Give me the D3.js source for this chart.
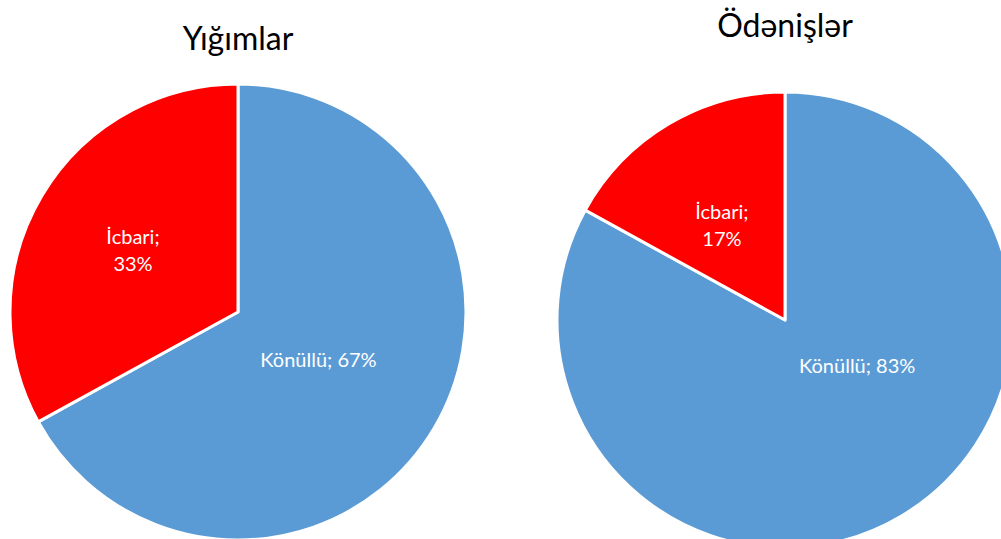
<!DOCTYPE html>
<html><head><meta charset="utf-8">
<script src="https://cdn.jsdelivr.net/npm/d3@7"></script>
<style>html,body{margin:0;padding:0;background:#fff;overflow:hidden}</style>
</head><body>
<svg id="c" width="1001" height="539"></svg>
<script>
const titles = ["Yığımlar", "Ödənişlər"];
const categories = ["Könüllü", "İcbari"];
const yigimlarValues = [67, 33];
const odenislerValues = [83, 17];
const colors = ["#5B9BD5", "#FF0000"];

const svg = d3.select("#c");
const R = 228;
const FONT = "Lato, 'Open Sans', sans-serif";
const layouts = [
  {cx: 238, cy: 312, titleY: 50, values: yigimlarValues, labelR: [0.41, 0.535], labelRot: [0, 0]},
  {cx: 785, cy: 320, titleY: 37, values: odenislerValues, labelR: [0.375, 0.5], labelRot: [-27, -3]}
];
const pie = d3.pie().sort(null).value(d => d);
const arc = d3.arc().innerRadius(0).outerRadius(R);

layouts.forEach((L, i) => {
  const g = svg.append("g").attr("transform", `translate(${L.cx},${L.cy})`);
  const arcs = pie(L.values);
  g.selectAll("path").data(arcs).enter().append("path")
    .attr("d", arc)
    .attr("fill", (d, j) => colors[j])
    .attr("stroke", "#fff").attr("stroke-width", 3).attr("stroke-linejoin", "round");
  arcs.forEach((d, j) => {
    const mid = (d.startAngle + d.endAngle) / 2 + L.labelRot[j] * Math.PI / 180;
    const r = R * L.labelR[j];
    const x = Math.sin(mid) * r, y = -Math.cos(mid) * r;
    const pct = d3.format(".0f")(d.value) + "%";
    const t = g.append("text").attr("x", x).attr("y", y)
      .attr("text-anchor", "middle").attr("fill", "#fff")
      .attr("font-family", FONT).attr("font-size", 20);
    if (j === 1) {
      t.append("tspan").attr("x", x).attr("dy", "-0.3em").text(categories[j] + ";");
      t.append("tspan").attr("x", x).attr("dy", "1.35em").text(pct);
    } else {
      t.attr("dy", "0.36em").text(categories[j] + "; " + pct);
    }
  });
  svg.append("text").attr("x", L.cx).attr("y", L.titleY)
    .attr("text-anchor", "middle").attr("fill", "#000")
    .attr("font-family", FONT).attr("font-size", 32)
    .text(titles[i]);
});
</script>
</body></html>
